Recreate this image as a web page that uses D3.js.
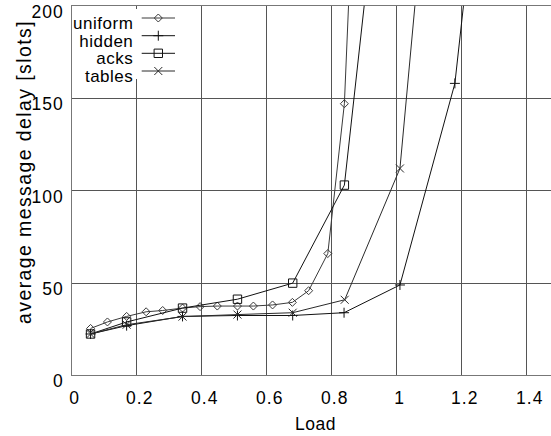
<!DOCTYPE html>
<html>
<head>
<meta charset="utf-8">
<script src="https://cdn.jsdelivr.net/npm/d3@7"></script>
<style>
  html, body { margin: 0; padding: 0; background: #fff; }
  svg { display: block; }
  text { font-family: "Liberation Sans", Arial, Helvetica, sans-serif; fill: #000; }
</style>
</head>
<body>
<svg id="chart" width="551" height="436"></svg>
<script>
// Measured delay per offered load for each scheme
const uniformLoad  = [0.058, 0.11, 0.169, 0.229, 0.28, 0.341, 0.395, 0.448, 0.51, 0.559, 0.618, 0.679, 0.729, 0.788, 0.839, 0.9];
const uniformDelay = [25.5, 29, 32, 34.5, 35.2, 36.5, 37.3, 37.6, 37.6, 37.6, 38.2, 39.6, 45.9, 66, 147, 400];

const hiddenLoad  = [0.058, 0.169, 0.341, 0.51, 0.68, 0.838, 1.01, 1.179, 1.35];
const hiddenDelay = [22.5, 27, 32, 32.5, 32.5, 34, 49, 158, 430];

const acksLoad  = [0.058, 0.169, 0.341, 0.51, 0.68, 0.839, 1.01];
const acksDelay = [22.5, 29, 36.5, 41.3, 50, 103, 375];

const tablesLoad  = [0.058, 0.169, 0.341, 0.51, 0.68, 0.84, 1.01, 1.18];
const tablesDelay = [22.5, 27.5, 31.9, 33, 34, 41, 112, 437];

const seriesNames = ["uniform", "hidden", "acks", "tables"];
const seriesMarkers = ["diamond", "plus", "square", "cross"];

const xTicks = [0, 0.2, 0.4, 0.6, 0.8, 1.0, 1.2, 1.4];
const xTickLabels = ["0", "0.2", "0.4", "0.6", "0.8", "1", "1.2", "1.4"];
const yTicks = [0, 50, 100, 150, 200];
const yTickLabels = ["0", "50", "100", "150", "200"];

const xTitle = "Load";
const yTitle = "average message delay [slots]";

// ---- layout ----
const svg = d3.select("#chart");
const plotLeft = 71.7, plotRight = 559.2, plotTop = 5.7, plotBottom = 375.6;

const x = d3.scaleLinear().domain([0, 1.5]).range([plotLeft, plotRight]);
const y = d3.scaleLinear().domain([0, 200]).range([plotBottom, plotTop]);

const series = [
  { name: seriesNames[0], marker: seriesMarkers[0], load: uniformLoad, delay: uniformDelay, color: "#3a3a3a" },
  { name: seriesNames[1], marker: seriesMarkers[1], load: hiddenLoad,  delay: hiddenDelay,  color: "#111" },
  { name: seriesNames[2], marker: seriesMarkers[2], load: acksLoad,    delay: acksDelay,    color: "#111" },
  { name: seriesNames[3], marker: seriesMarkers[3], load: tablesLoad,  delay: tablesDelay,  color: "#2a2a2a" }
];

// marker path builders, centred on 0,0
function markerPath(type) {
  switch (type) {
    case "diamond": return "M0,-4 L4,0 L0,4 L-4,0 Z";
    case "square":  return "M-4.2,-4.2 H4.2 V4.2 H-4.2 Z";
    case "plus":    return "M-5,0 H5 M0,-5 V5";
    case "cross":   return "M-4,-4 L4,4 M-4,4 L4,-4";
  }
}

svg.append("defs").append("clipPath").attr("id", "plot-clip")
  .append("rect")
  .attr("x", plotLeft).attr("y", plotTop)
  .attr("width", plotRight - plotLeft).attr("height", plotBottom - plotTop);

// ---- grid ----
const grid = svg.append("g").attr("stroke", "#555").attr("stroke-width", 1).attr("shape-rendering", "crispEdges");
grid.selectAll("line.v").data(xTicks.slice(1)).join("line")
  .attr("class", "v")
  .attr("x1", d => x(d)).attr("x2", d => x(d))
  .attr("y1", plotTop).attr("y2", plotBottom);
grid.selectAll("line.h").data(yTicks.slice(1, -1)).join("line")
  .attr("class", "h")
  .attr("x1", plotLeft).attr("x2", plotRight)
  .attr("y1", d => y(d)).attr("y2", d => y(d));

// frame
svg.append("path")
  .attr("d", `M${plotRight},${plotTop} H${plotLeft} V${plotBottom} H${plotRight}`)
  .attr("fill", "none").attr("stroke", "#777").attr("stroke-width", 1)
  .attr("shape-rendering", "crispEdges");

// ---- axes ----
const xAxis = d3.axisBottom(x).tickValues(xTicks)
  .tickFormat((d, i) => xTickLabels[i]).tickSize(0).tickPadding(16);
const gx = svg.append("g").attr("transform", `translate(0,${plotBottom})`).call(xAxis);
gx.select(".domain").remove();
gx.selectAll("text").attr("font-size", 17.5).attr("dx", 2.5).attr("letter-spacing", 1)
  .attr("font-family", "Liberation Sans, Arial, sans-serif").attr("fill", "#000");

const yAxis = d3.axisLeft(y).tickValues(yTicks)
  .tickFormat((d, i) => yTickLabels[i]).tickSize(0).tickPadding(8);
const gy = svg.append("g").attr("transform", `translate(${plotLeft},0)`).call(yAxis);
gy.select(".domain").remove();
gy.selectAll("text").attr("font-size", 17.5).attr("dy", "0.65em").attr("letter-spacing", 1)
  .attr("font-family", "Liberation Sans, Arial, sans-serif").attr("fill", "#000");

svg.append("text")
  .attr("x", (plotLeft + plotRight) / 2).attr("y", 430)
  .attr("text-anchor", "middle").attr("font-size", 17.5).attr("letter-spacing", 0.5)
  .text(xTitle);

svg.append("text")
  .attr("transform", "translate(31,172) rotate(-90)")
  .attr("text-anchor", "middle").attr("font-size", 19.5).attr("letter-spacing", 1.4)
  .text(yTitle);

// ---- series ----
const plot = svg.append("g").attr("clip-path", "url(#plot-clip)");
const line = d3.line().x(d => x(d[0])).y(d => y(d[1]));

series.forEach(s => {
  const pts = s.load.map((l, i) => [l, s.delay[i]]);
  const g = plot.append("g");
  g.append("path").datum(pts)
    .attr("d", line)
    .attr("fill", "none").attr("stroke", s.color).attr("stroke-width", 1);
  g.selectAll("path.m").data(pts).join("path")
    .attr("class", "m")
    .attr("transform", d => `translate(${x(d[0])},${y(d[1])})`)
    .attr("d", markerPath(s.marker))
    .attr("fill", "none").attr("stroke", s.color).attr("stroke-width", 1);
});

// ---- legend ----
const legend = svg.append("g");
legend.append("rect")
  .attr("x", 74).attr("y", 9).attr("width", 106).attr("height", 70)
  .attr("fill", "#fff");
const rowY = [18, 35.7, 53.3, 71];
series.forEach((s, i) => {
  const g = legend.append("g");
  g.append("text")
    .attr("x", 133.3).attr("y", rowY[i] + 11)
    .attr("text-anchor", "end").attr("font-size", 17).attr("letter-spacing", 0.5)
    .text(s.name);
  g.append("line")
    .attr("x1", 141.7).attr("x2", 175)
    .attr("y1", rowY[i]).attr("y2", rowY[i])
    .attr("stroke", s.color).attr("stroke-width", 1);
  g.append("path")
    .attr("transform", `translate(158.3,${rowY[i]})`)
    .attr("d", markerPath(s.marker))
    .attr("fill", "none").attr("stroke", s.color).attr("stroke-width", 1);
});
</script>
</body>
</html>
